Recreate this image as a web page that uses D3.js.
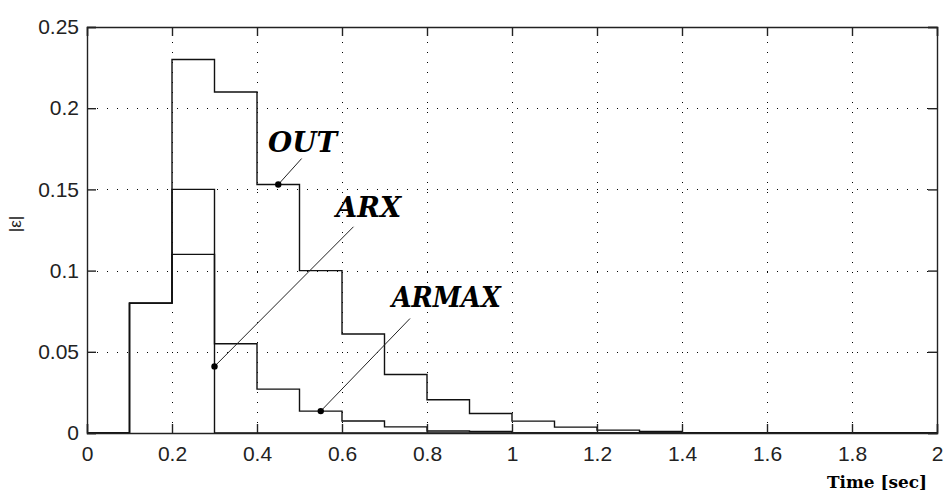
<!DOCTYPE html>
<html>
<head>
<meta charset="utf-8">
<script src="https://cdn.jsdelivr.net/npm/d3@7"></script>
<style>
  html, body { margin: 0; padding: 0; background: #fff; }
  svg { display: block; }
</style>
</head>
<body>
<div id="chart"></div>
<script>
// bin edges (sec) and per-bin error values
const binStarts = [0, 0.1, 0.2, 0.3, 0.4, 0.5, 0.6, 0.7, 0.8, 0.9, 1.0, 1.1, 1.2, 1.3, 1.4];
const outErr   = [0, 0.08, 0.23, 0.21, 0.153, 0.1, 0.061, 0.036, 0.0205, 0.012, 0.0073, 0.0036, 0.0018, 0.001, 0];
const arxErr   = [0, 0.08, 0.15, 0, 0, 0, 0, 0, 0, 0, 0, 0, 0, 0, 0];
const armaxErr = [0, 0.08, 0.11, 0.055, 0.027, 0.0135, 0.0074, 0.0038, 0.0012, 0.0009, 0, 0, 0, 0, 0];

const xTicks = [0, 0.2, 0.4, 0.6, 0.8, 1, 1.2, 1.4, 1.6, 1.8, 2];
const yTicks = [0, 0.05, 0.1, 0.15, 0.2, 0.25];

// annotation labels and the data point each one points at
const annoLabels = ['OUT', 'ARX', 'ARMAX'];
const annoPoints = [[0.45, 0.153], [0.3, 0.041], [0.55, 0.0135]];
const annoEnds   = [[0.505, 0.169], [0.627, 0.127], [0.76, 0.0705]];

const width = 946, height = 493;
const margin = { top: 27, right: 9, bottom: 60, left: 87 };
const innerW = width - margin.left - margin.right;
const innerH = height - margin.top - margin.bottom;

const svg = d3.select('#chart').append('svg')
    .attr('width', width)
    .attr('height', height);

svg.append('rect').attr('width', width).attr('height', height).attr('fill', '#fff');

const g = svg.append('g')
    .attr('transform', `translate(${margin.left},${margin.top})`);

const x = d3.scaleLinear().domain([0, 2]).range([0, innerW]);
const y = d3.scaleLinear().domain([0, 0.25]).range([innerH, 0]);

// dotted grid
const grid = g.append('g').attr('class', 'grid')
    .attr('stroke', '#000')
    .attr('stroke-width', 1)
    .attr('stroke-dasharray', '1,9')
    .attr('fill', 'none');

grid.selectAll('.gx')
    .data(xTicks.slice(1, -1))
    .enter().append('line')
    .attr('x1', d => Math.round(x(d)) + 0.5)
    .attr('x2', d => Math.round(x(d)) + 0.5)
    .attr('y1', innerH)
    .attr('y2', 0);

grid.selectAll('.gy')
    .data(yTicks.slice(1, -1))
    .enter().append('line')
    .attr('y1', d => Math.round(y(d)) + 0.5)
    .attr('y2', d => Math.round(y(d)) + 0.5)
    .attr('x1', 0)
    .attr('x2', innerW);

// step series
const stepLine = d3.line()
    .x(d => x(d[0]))
    .y(d => y(d[1]))
    .curve(d3.curveStepAfter);

function stepPoints(values) {
    const pts = binStarts.map((b, i) => [b, values[i]]);
    pts.push([2, values[values.length - 1]]);
    return pts;
}

[outErr, arxErr, armaxErr].forEach(vals => {
    g.append('path')
        .datum(stepPoints(vals))
        .attr('d', stepLine)
        .attr('fill', 'none')
        .attr('stroke', '#111')
        .attr('stroke-width', 1.4);
});

// axes box with inward ticks on every side
const tickLen = 9;
const axisColor = '#222';

const xAxisB = g.append('g')
    .attr('transform', `translate(0,${innerH})`)
    .call(d3.axisBottom(x).tickValues(xTicks).tickSize(-tickLen).tickPadding(tickLen + 5)
        .tickFormat(d3.format('~g')));
const xAxisT = g.append('g')
    .call(d3.axisTop(x).tickValues(xTicks).tickSize(-tickLen).tickFormat(''));
const yAxisL = g.append('g')
    .call(d3.axisLeft(y).tickValues(yTicks).tickSize(-tickLen).tickPadding(-tickLen + 8 + tickLen)
        .tickFormat(d3.format('~g')));
const yAxisR = g.append('g')
    .attr('transform', `translate(${innerW},0)`)
    .call(d3.axisRight(y).tickValues(yTicks).tickSize(-tickLen).tickFormat(''));

[xAxisB, xAxisT, yAxisL, yAxisR].forEach(a => {
    a.select('.domain').attr('stroke', axisColor).attr('stroke-width', 1.4);
    a.selectAll('.tick line').attr('stroke', axisColor).attr('stroke-width', 1.4);
    a.selectAll('.tick text')
        .attr('fill', '#222')
        .style('font-family', '"Liberation Sans", Arial, sans-serif')
        .style('font-size', '21px');
});
yAxisL.selectAll('.tick text').attr('x', -8);
xAxisB.selectAll('.tick text').attr('dy', '0.72em').attr('y', 13);

// annotations
const anno = g.append('g').attr('class', 'annotations');
const labelPos = [[0.426, 0.173, 69], [0.586, 0.133, 65], [0.717, 0.0777, 109]];

annoLabels.forEach((label, i) => {
    const [px, py] = annoPoints[i];
    const [ex, ey] = annoEnds[i];
    anno.append('line')
        .attr('x1', x(px)).attr('y1', y(py))
        .attr('x2', x(ex)).attr('y2', y(ey))
        .attr('stroke', '#222')
        .attr('stroke-width', 1);
    anno.append('circle')
        .attr('cx', x(px)).attr('cy', y(py))
        .attr('r', 3.2)
        .attr('fill', '#000');
    const [lx, ly, lw] = labelPos[i];
    anno.append('text')
        .attr('x', x(lx))
        .attr('y', y(ly))
        .attr('textLength', lw)
        .attr('lengthAdjust', 'spacingAndGlyphs')
        .style('font-family', '"DejaVu Serif", "Liberation Serif", serif')
        .style('font-style', 'italic')
        .style('font-weight', 'bold')
        .style('font-size', '27px')
        .attr('fill', '#000')
        .text(label);
});

// axis labels
svg.append('text')
    .attr('x', 927)
    .attr('y', 488)
    .attr('text-anchor', 'end')
    .attr('textLength', 100)
    .attr('lengthAdjust', 'spacingAndGlyphs')
    .style('font-family', '"DejaVu Serif", "Liberation Serif", serif')
    .style('font-weight', 'bold')
    .style('font-size', '17px')
    .attr('fill', '#000')
    .text('Time [sec]');

svg.append('text')
    .attr('transform', 'translate(15,224) rotate(-90)')
    .attr('text-anchor', 'middle')
    .attr('dy', '0.35em')
    .style('font-family', '"Liberation Sans", Arial, sans-serif')
    .style('font-size', '17px')
    .attr('fill', '#222')
    .text('|ε|');
</script>
</body>
</html>
